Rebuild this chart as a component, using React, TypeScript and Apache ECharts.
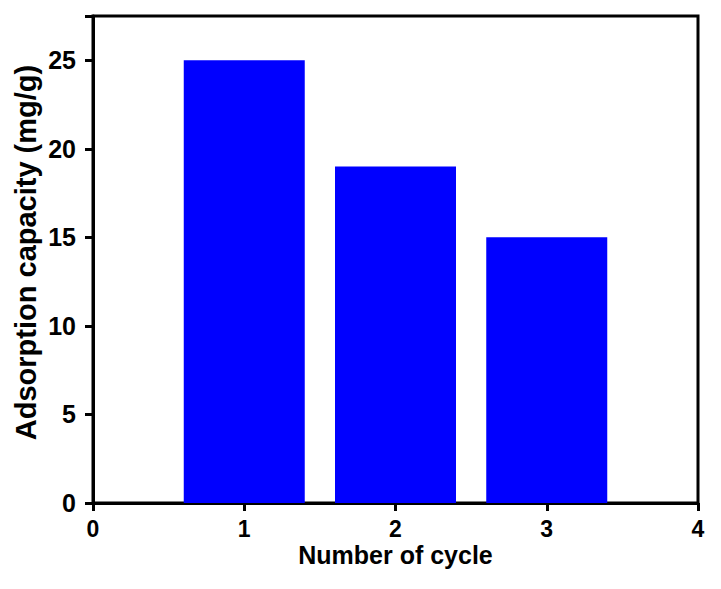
import React, { useEffect, useRef } from "react";
import * as echarts from "echarts";

// Adsorption capacity over regeneration cycles
const cycles: number[] = [1, 2, 3];
const capacity: number[] = [25, 19, 15];
const xTicks: number[] = [0, 1, 2, 3, 4];
const yTicks: number[] = [0, 5, 10, 15, 20, 25];

const FONT = "'Liberation Sans', Arial, sans-serif";

export default function App() {
  const ref = useRef<HTMLDivElement>(null);

  useEffect(() => {
    if (!ref.current) return;
    const chart = echarts.init(ref.current, undefined, { renderer: "svg" });
    const gridLeft = 93;
    const gridRight = 23;
    const plotWidth = 721 - gridLeft - gridRight;
    const xMin = xTicks[0];
    const xMax = xTicks[xTicks.length - 1];
    const unitPx = plotWidth / (xMax - xMin);

    chart.setOption({
      animation: false,
      backgroundColor: "#ffffff",
      grid: {
        left: gridLeft,
        right: gridRight,
        top: 16,
        bottom: 86,
        show: true,
        borderColor: "#000",
        borderWidth: 3,
        backgroundColor: "transparent",
      },
      xAxis: {
        type: "value",
        min: xMin,
        max: xMax,
        interval: 1,
        name: "Number of cycle",
        nameLocation: "middle",
        nameGap: 41,
        nameMoveOverlap: false,
        nameTextStyle: {
          fontFamily: FONT,
          fontWeight: "bold",
          fontSize: 25,
          lineHeight: 22,
          color: "#000",
        },
        axisLine: { show: true, onZero: false, lineStyle: { color: "#000", width: 3 } },
        axisTick: { show: true, inside: false, length: 8, lineStyle: { color: "#000", width: 3 } },
        axisLabel: {
          margin: 17,
          fontFamily: FONT,
          fontWeight: "bold",
          fontSize: 23,
          lineHeight: 18,
          color: "#000",
        },
        splitLine: { show: false },
      },
      yAxis: {
        type: "value",
        min: 0,
        max: 27.5,
        interval: 5,
        name: "Adsorption capacity (mg/g)",
        nameLocation: "middle",
        nameGap: 53,
        nameMoveOverlap: false,
        nameRotate: 90,
        nameTextStyle: {
          fontFamily: FONT,
          fontWeight: "bold",
          fontSize: 29,
          color: "#000",
          padding: [0, 0, 0, 14],
        },
        axisLine: { show: true, lineStyle: { color: "#000", width: 3 } },
        axisTick: { show: true, inside: false, length: 8, lineStyle: { color: "#000", width: 3 } },
        axisLabel: {
          margin: 17,
          fontFamily: FONT,
          fontWeight: "bold",
          fontSize: 25,
          color: "#000",
          formatter: (v: number) => (yTicks.includes(v) ? String(v) : ""),
        },
        splitLine: { show: false },
      },
      series: [
        {
          type: "bar",
          data: cycles.map((c, i) => [c, capacity[i]]),
          barWidth: unitPx * 0.8,
          itemStyle: { color: "#0000ff" },
        },
      ],
    });

    return () => chart.dispose();
  }, []);

  return (
    <div
      ref={ref}
      style={{ position: "fixed", left: 0, top: 0, width: 721, height: 589 }}
    />
  );
}
